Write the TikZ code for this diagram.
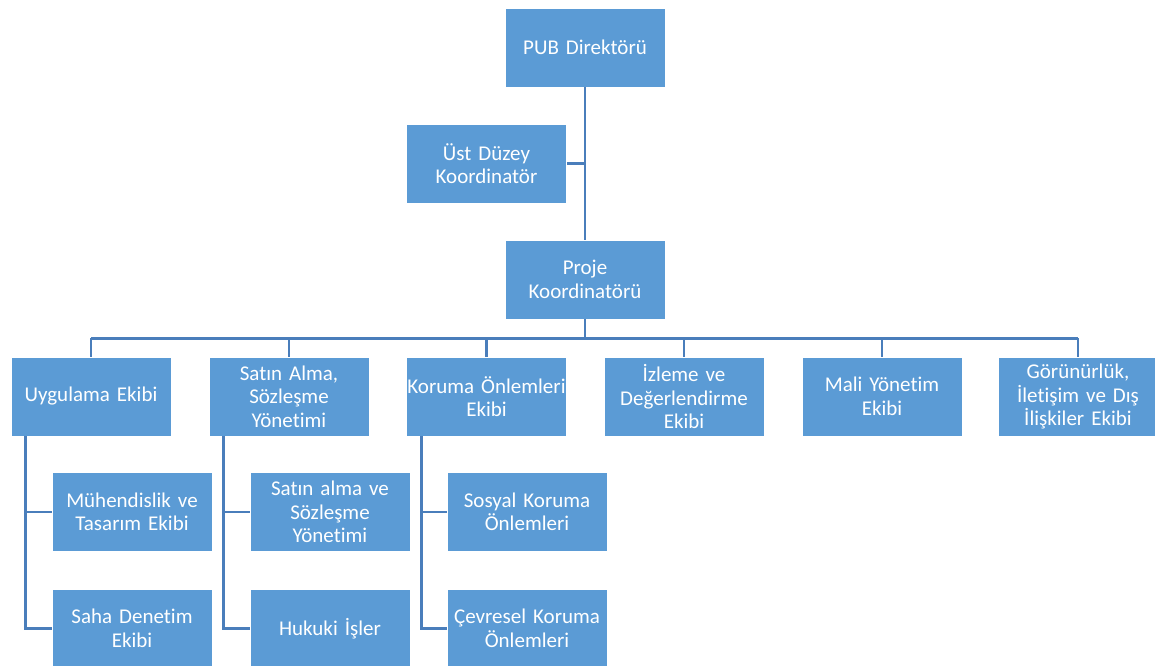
\documentclass[tikz,border=0pt]{standalone}
\usepackage{fontspec}
\setmainfont{Carlito}[Ligatures={NoCommon}]
\usetikzlibrary{calc}
\definecolor{boxblue}{HTML}{5B9BD5}
\definecolor{lineblue}{HTML}{4A7EBB}
\tikzset{
  unit/.style={fill=boxblue, draw=white, line width=0.8pt, text=white,
    minimum width=160pt, minimum height=79pt, text width=166pt, inner xsep=-3pt,
    align=center, font=\fontsize{21}{23.5}\selectfont},
  link/.style={draw=lineblue, line width=2.8pt}
}
\begin{document}
\begin{tikzpicture}[x=1pt, y=-1pt]
        \useasboundingbox (0,0) rectangle (1155,665);

        % Top of the chart
        \node[unit] (pub) at (585,47.5) {PUB Direktörü};
        \node[unit] (ust) at (486.5,163.5) {Üst Düzey\\Koordinatör};
        \node[unit] (proje) at (585,279.5) {Proje\\Koordinatörü};

        % Teams under the project coordinator
        \node[unit] (uyg) at (91,396.5) {Uygulama Ekibi};
        \node[unit] (satin) at (289,396.5) {Satın Alma,\\Sözleşme\\Yönetimi};
        \node[unit] (koruma) at (486.5,396.5) {Koruma Önlemleri\\Ekibi};
        \node[unit] (izleme) at (684,396.5) {İzleme ve\\Değerlendirme\\Ekibi};
        \node[unit] (mali) at (882,396.5) {Mali Yönetim\\Ekibi};
        \node[unit] (gor) at (1078,396.5) {Görünürlük,\\İletişim ve Dış\\İlişkiler Ekibi};

        % Sub-units
        \node[unit] (muh) at (132,512) {Mühendislik ve\\Tasarım Ekibi};
        \node[unit] (saha) at (132,628.5) {Saha Denetim\\Ekibi};
        \node[unit] (satinalt) at (330,512) {Satın alma ve\\Sözleşme\\Yönetimi};
        \node[unit] (hukuk) at (330,628.5) {Hukuki İşler};
        \node[unit] (sosyal) at (527,512) {Sosyal Koruma\\Önlemleri};
        \node[unit] (cevre) at (527,628.5) {Çevresel Koruma\\Önlemleri};

        % Main spine and the assistant line
        \draw[link] (pub.south) -- (proje.north);
        \draw[link] (ust.east) -- (ust.east -| pub.south);

        % Horizontal bar to the teams
        \coordinate (bar) at ($(proje.south)+(0,19)$);
        \draw[link] (proje.south) -- (bar);
        \draw[link] (bar -| uyg.north) -- (bar -| gor.north);
        \foreach \t in {uyg, satin, koruma, izleme, mali, gor}
          \draw[link] (bar -| \t.north) -- (\t.north);

        % Side brackets to the sub-units
        \draw[link] ($(uyg.south west)+(15,0)$) |- (muh.west);
        \draw[link] ($(uyg.south west)+(15,0)$) |- (saha.west);
        \draw[link] ($(satin.south west)+(15,0)$) |- (satinalt.west);
        \draw[link] ($(satin.south west)+(15,0)$) |- (hukuk.west);
        \draw[link] ($(koruma.south west)+(15,0)$) |- (sosyal.west);
        \draw[link] ($(koruma.south west)+(15,0)$) |- (cevre.west);

    \end{tikzpicture}
\end{document}
